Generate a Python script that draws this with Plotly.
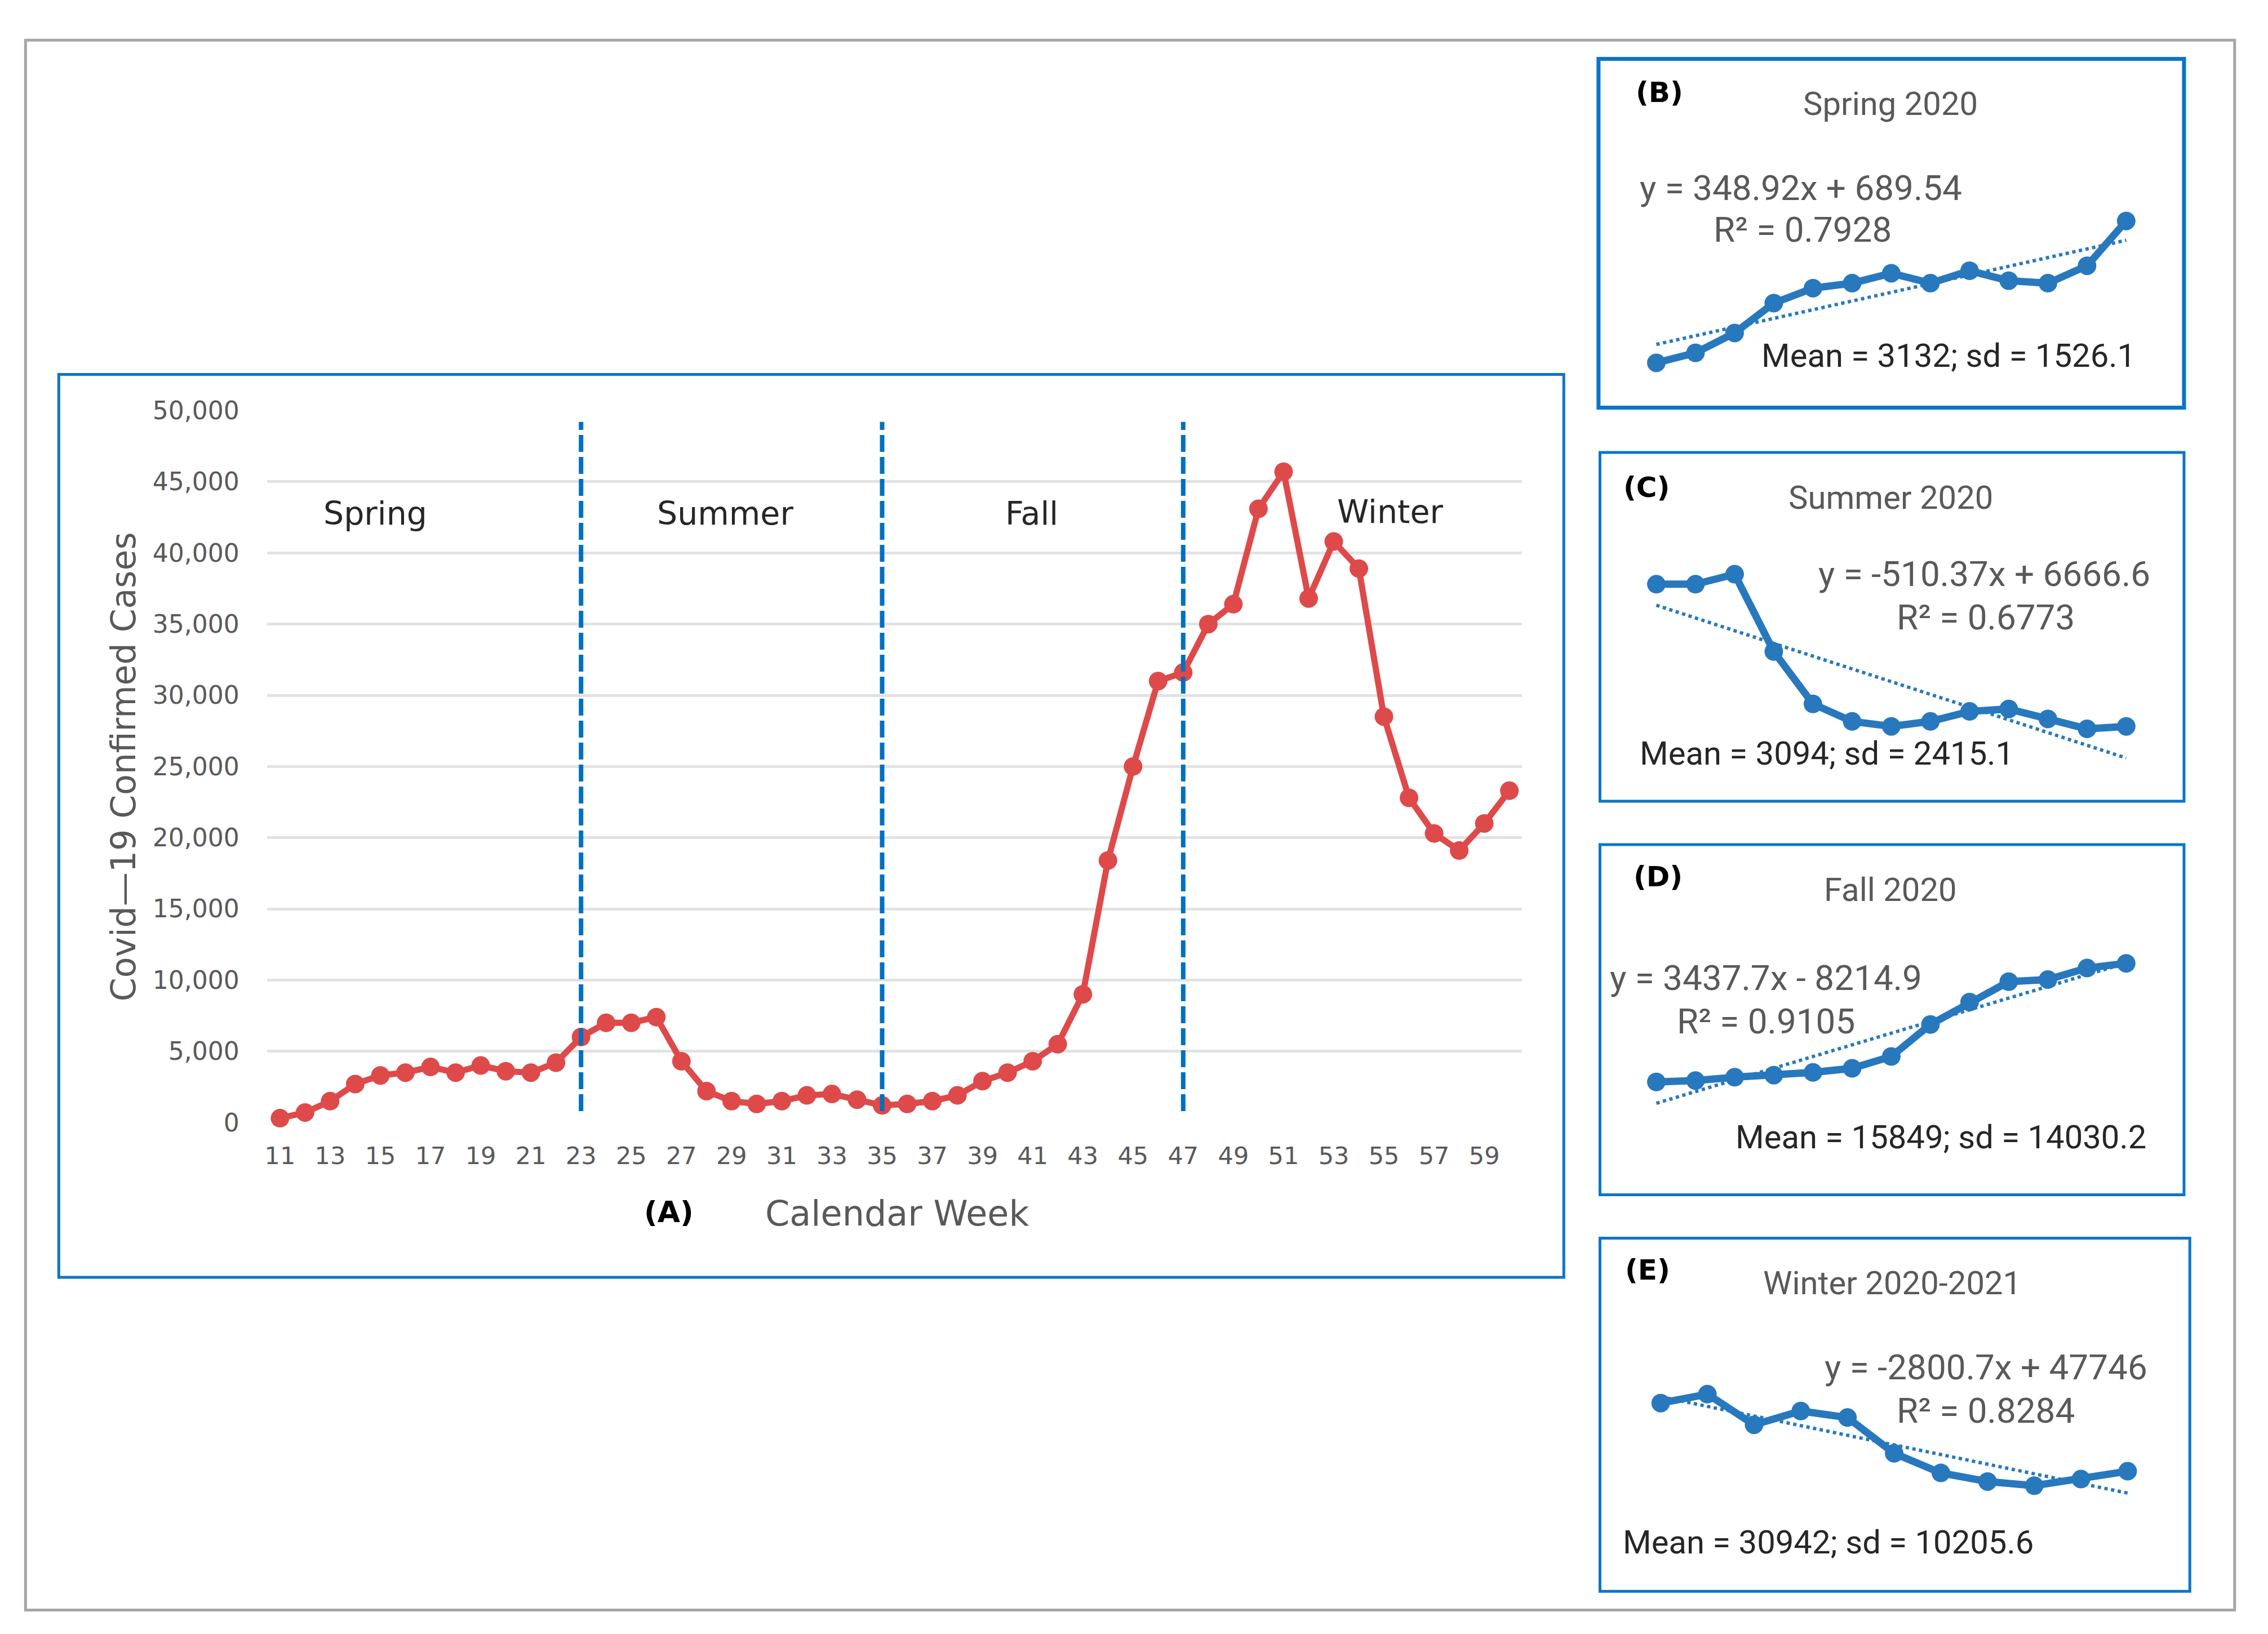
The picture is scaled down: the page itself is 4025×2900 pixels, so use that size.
import plotly.graph_objects as go

# weekly confirmed cases, calendar weeks 11..60
weeks = list(range(11, 61))
cases = [
    300, 700, 1500, 2700, 3300, 3500, 3900, 3500, 4000, 3600, 3500, 4200,
    6000, 7000, 7000, 7400, 4300, 2200, 1500, 1300, 1500, 1900, 2000, 1600, 1200, 1300,
    1500, 1900, 2900, 3500, 4300, 5500, 9000, 18400, 25000, 31000, 31600, 35000, 36400,
    43100, 45700, 36800, 40800, 38900, 28500, 22800, 20300, 19100, 21000, 23300,
]
x_ticks = list(range(11, 60, 2))
y_ticks = list(range(0, 50001, 5000))

season_names = ["Spring", "Summer", "Fall", "Winter"]
season_breaks = [23, 35, 47]
# first / last week used in each inset
inset_first = [11, 24, 37, 50]
inset_last = [23, 36, 49, 60]
inset_tags = ["(B)", "(C)", "(D)", "(E)"]
inset_titles = ["Spring 2020", "Summer 2020", "Fall 2020", "Winter 2020-2021"]
trend_slope = [348.92, -510.37, 3437.7, -2800.7]
trend_icept = [689.54, 6666.6, -8214.9, 47746]
eq_text = ["y = 348.92x + 689.54", "y = -510.37x + 6666.6",
           "y = 3437.7x - 8214.9", "y = -2800.7x + 47746"]
r2_text = ["R² = 0.7928", "R² = 0.6773", "R² = 0.9105", "R² = 0.8284"]
stat_text = ["Mean = 3132; sd = 1526.1", "Mean = 3094; sd = 2415.1",
             "Mean = 15849; sd = 14030.2", "Mean = 30942; sd = 10205.6"]

W, H = 4025, 2900
RW, RH = 1560.0, 1124.0  # layout units measured on the reference
# small correction so the photographed page lines up with the reference
SX, OX = 1.0046, 0.9
SY, OY = 0.987, 10.4

RED = "#DE4A4A"
BLUE = "#2878BE"
FRAME_BLUE = "#0A75C9"
DASH_BLUE = "#0070C0"
GREY_TXT = "#595959"
MAIN_FONT = "DejaVu Sans"
INSET_FONT = "Roboto"


def px(x):
    return ((x - OX) / SX) / RW


def py(y):
    return 1 - ((y - OY) / SY) / RH


def axis_range(d0, d1, v1, p1, v2, p2):
    s = (v2 - v1) / (p2 - p1)
    return [v1 + (d0 - p1) * s, v1 + (d1 - p1) * s]


def label(text, x, y, size, color, family=MAIN_FONT, angle=0):
    return dict(text=text, x=px(x), y=py(y), xref="paper", yref="paper",
                xanchor="center", yanchor="middle", showarrow=False, textangle=angle,
                font=dict(family=family, size=size, color=color))


fig = go.Figure()

# main chart (A)
fig.add_trace(go.Scatter(
    x=weeks, y=cases, mode="lines+markers",
    line=dict(color=RED, width=11),
    marker=dict(color=RED, size=33),
    cliponaxis=False, showlegend=False, xaxis="x", yaxis="y"))

main_x = (184, 1052)
main_y = (776, 284)
fig.update_layout(
    xaxis=dict(domain=[px(main_x[0]), px(main_x[1])],
               range=axis_range(main_x[0], main_x[1], 11, 193, 59, 1026),
               tickvals=x_ticks, showgrid=False, zeroline=False, showline=False,
               tickfont=dict(family=MAIN_FONT, size=43, color=GREY_TXT),
               ticks="", ticklabelstandoff=30),
    yaxis=dict(domain=[py(main_y[0]), py(main_y[1])], range=[0, 50000],
               tickvals=y_ticks, tickformat=",", showgrid=True,
               gridcolor="#E2E2E2", gridwidth=5, zeroline=False, showline=False,
               tickfont=dict(family=MAIN_FONT, size=44, color=GREY_TXT),
               ticks="", ticklabelstandoff=48),
)

shapes = []
for wk in season_breaks:
    shapes.append(dict(type="line", xref="x", yref="y", x0=wk, x1=wk, y0=800, y1=49200,
                       line=dict(color=DASH_BLUE, width=8, dash="30px,9px")))

# outer grey frame and main blue box
shapes.append(dict(type="rect", xref="paper", yref="paper", x0=px(17), x1=px(1545),
                   y0=py(1113), y1=py(28), line=dict(color="#A6A6A6", width=5)))
shapes.append(dict(type="rect", xref="paper", yref="paper", x0=px(40), x1=px(1081),
                   y0=py(883), y1=py(259), line=dict(color=FRAME_BLUE, width=5)))

annotations = []
season_pos = [(259, 355), (501, 355), (713, 355), (961, 354)]
for name, (sx, sy) in zip(season_names, season_pos):
    annotations.append(label(name, sx, sy, 57, "#262626"))
annotations.append(label("<b>(A)</b>", 462, 838, 52, "black"))
annotations.append(label("Calendar Week", 620, 839, 62, GREY_TXT))
annotations.append(label("Covid—19 Confirmed Cases", 85, 530, 60, GREY_TXT, angle=-90))

# insets (B)-(E): box, point reference pixels, text positions
inset_box = [(1105, 41, 1510, 282), (1106, 313, 1510, 554),
             (1106, 584, 1510, 826), (1106, 856, 1514, 1100)]
inset_border = [7, 5, 5, 5]
inset_xref = [(1145, 1470), (1145, 1470), (1145, 1470), (1148, 1471)]
inset_yref = [((300, 251), (6000, 153)), ((7000, 404), (1200, 504)),
              ((1500, 748), (36400, 666)), ((45600, 964), (19100, 1027))]
tag_pos = [(1147, 64), (1138, 337), (1146, 606), (1139, 878)]
title_pos = [(1307, 72), (1307, 344), (1307, 615), (1308, 887)]
eq_pos = [(1245, 130), (1372, 397), (1221, 676), (1373, 945)]
r2_pos = [(1246, 159), (1373, 427), (1221, 706), (1373, 975)]
stat_pos = [(1347, 246), (1263, 521), (1342, 786), (1264, 1066)]

for i in range(4):
    n = i + 2
    a = weeks.index(inset_first[i])
    b = weeks.index(inset_last[i]) + 1
    vals = cases[a:b]
    idx = list(range(1, len(vals) + 1))
    trend_x = [idx[0], idx[-1]]
    trend_y = [trend_slope[i] * t + trend_icept[i] for t in trend_x]

    fig.add_trace(go.Scatter(x=trend_x, y=trend_y, mode="lines",
                             line=dict(color=BLUE, width=6, dash="dot"),
                             showlegend=False, xaxis=f"x{n}", yaxis=f"y{n}"))
    fig.add_trace(go.Scatter(x=idx, y=vals, mode="lines+markers",
                             line=dict(color=BLUE, width=13),
                             marker=dict(color=BLUE, size=33),
                             cliponaxis=False, showlegend=False,
                             xaxis=f"x{n}", yaxis=f"y{n}"))

    x0, y0, x1, y1 = inset_box[i]
    dx0, dx1, dy_top, dy_bot = x0 + 5, x1 - 5, y0 + 5, y1 - 5
    (v1, p1), (v2, p2) = inset_yref[i]
    fig.layout[f"xaxis{n}"] = dict(
        domain=[px(dx0), px(dx1)],
        range=axis_range(dx0, dx1, 1, inset_xref[i][0], len(vals), inset_xref[i][1]),
        visible=False, anchor=f"y{n}")
    fig.layout[f"yaxis{n}"] = dict(
        domain=[py(dy_bot), py(dy_top)],
        range=axis_range(dy_bot, dy_top, v1, p1, v2, p2),
        visible=False, anchor=f"x{n}")

    shapes.append(dict(type="rect", xref="paper", yref="paper", x0=px(x0), x1=px(x1),
                       y0=py(y1), y1=py(y0), line=dict(color=FRAME_BLUE, width=inset_border[i])))

    annotations.append(label(f"<b>{inset_tags[i]}</b>", *tag_pos[i], 50, "black"))
    annotations.append(label(inset_titles[i], *title_pos[i], 58, GREY_TXT, INSET_FONT))
    annotations.append(label(eq_text[i], *eq_pos[i], 62, GREY_TXT, INSET_FONT))
    annotations.append(label(r2_text[i], *r2_pos[i], 62, GREY_TXT, INSET_FONT))
    annotations.append(label(stat_text[i], *stat_pos[i], 58, "#262626", INSET_FONT))

fig.update_layout(width=W, height=H, margin=dict(l=0, r=0, t=0, b=0),
                  paper_bgcolor="white", plot_bgcolor="white",
                  shapes=shapes, annotations=annotations, showlegend=False)

fig.write_html("out.html", config={"displayModeBar": False},
               post_script="document.body.style.margin='0';")
